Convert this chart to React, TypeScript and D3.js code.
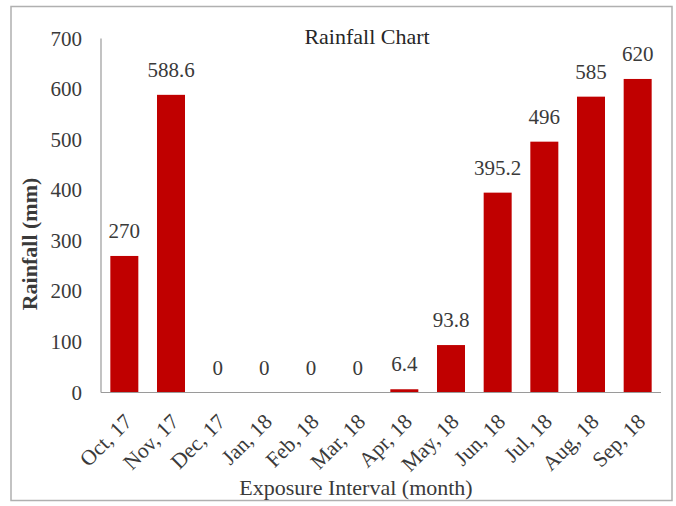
import React from "react";
import * as d3 from "d3";

const months = [
  "Oct, 17", "Nov, 17", "Dec, 17", "Jan, 18", "Feb, 18", "Mar, 18",
  "Apr, 18", "May, 18", "Jun, 18", "Jul, 18", "Aug, 18", "Sep, 18",
];
const rainfall = [270, 588.6, 0, 0, 0, 0, 6.4, 93.8, 395.2, 496, 585, 620];
const yTicks = [0, 100, 200, 300, 400, 500, 600, 700];

const W = 676;
const H = 506;
const FONT = "'Liberation Serif', 'Times New Roman', serif";
const TEXT = "#3a3a3a";
const BAR = "#c00000";

export default function App() {
  const x = d3
    .scaleBand<string>()
    .domain(months)
    .range([101, 661])
    .paddingInner(0.4)
    .paddingOuter(0.2);
  const y = d3.scaleLinear().domain([0, 700]).range([392.5, 38.5]);

  return (
    <svg
      width={W}
      height={H}
      style={{ position: "absolute", left: 0, top: 0, background: "#fff" }}
      fontFamily={FONT}
    >
      <rect x={11} y={6.5} width={661} height={494} fill="#fff" stroke="#b0b0b0" strokeWidth={1.5} />

      <text x={367} y={44} textAnchor="middle" fontSize={22} fill="#262626">
        Rainfall Chart
      </text>

      {/* bars */}
      {months.map((m, i) => (
        <rect
          key={m}
          x={x(m)}
          y={y(rainfall[i])}
          width={x.bandwidth()}
          height={y(0) - y(rainfall[i])}
          fill={BAR}
        />
      ))}

      {/* axes */}
      <line x1={101} x2={101} y1={y(700)} y2={y(0)} stroke="#9a9a9a" strokeWidth={1.2} />
      <line x1={101} x2={661} y1={y(0)} y2={y(0)} stroke="#9a9a9a" strokeWidth={1.2} />

      {yTicks.map((t) => (
        <text key={t} x={82} y={y(t) + 7} textAnchor="end" fontSize={21} fill={TEXT}>
          {t}
        </text>
      ))}

      {/* value labels */}
      {months.map((m, i) => (
        <text
          key={"v" + m}
          x={(x(m) as number) + x.bandwidth() / 2}
          y={y(rainfall[i]) - 18}
          textAnchor="middle"
          fontSize={21}
          fill={TEXT}
        >
          {rainfall[i]}
        </text>
      ))}

      {/* category labels */}
      {months.map((m) => {
        const cx = (x(m) as number) + x.bandwidth() / 2 + 9;
        return (
          <text
            key={"c" + m}
            transform={`translate(${cx},423) rotate(-45)`}
            textAnchor="end"
            fontSize={21.5}
            fill={TEXT}
          >
            {m}
          </text>
        );
      })}

      <text x={356} y={495} textAnchor="middle" fontSize={22} fill={TEXT}>
        Exposure Interval (month)
      </text>
      <text
        transform={`translate(37,244) rotate(-90)`}
        textAnchor="middle"
        fontSize={22}
        fontWeight="bold"
        fill={TEXT}
      >
        Rainfall (mm)
      </text>
    </svg>
  );
}
